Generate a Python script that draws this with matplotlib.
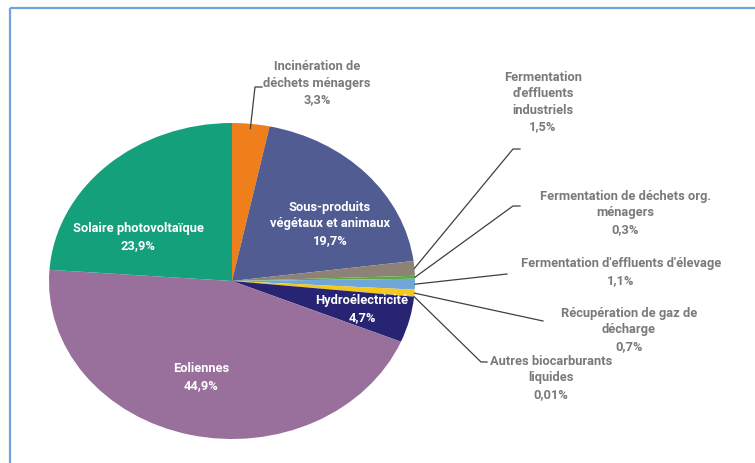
import matplotlib
matplotlib.use("Agg")
import numpy as np
import matplotlib.pyplot as plt

# Energy sources (share of production, %), clockwise from the top
sources = [
    "Incinération de\ndéchets ménagers",
    "Sous-produits\nvégétaux et animaux",
    "Fermentation\nd'effluents\nindustriels",
    "Fermentation de déchets org.\nménagers",
    "Fermentation d'effluents d'élevage",
    "Récupération de gaz de\ndécharge",
    "Autres biocarburants\nliquides",
    "Hydroélectricité",
    "Eoliennes",
    "Solaire photovoltaïque",
]
shares = [3.3, 19.7, 1.5, 0.3, 1.1, 0.7, 0.01, 4.7, 44.9, 23.9]
share_text = ["3,3%", "19,7%", "1,5%", "0,3%", "1,1%", "0,7%", "0,01%", "4,7%", "44,9%", "23,9%"]
colors = ["#EF7F1A", "#505C92", "#8C8275", "#5EAA3F", "#6FA8D8",
          "#F6C81A", "#A5A5A5", "#272474", "#98709B", "#14A07B"]

W, H = 755, 464
fig = plt.figure(figsize=(W / 100, H / 100), dpi=100)
fig.patch.set_facecolor("white")

# pie geometry in pixels (slightly wider than tall)
cx, cy, rx, ry = 232, 282, 183, 158

pie_ax = fig.add_axes([(cx - rx) / W, (H - cy - ry) / H, 2 * rx / W, 2 * ry / H])
wedges, _ = pie_ax.pie(shares, colors=colors, startangle=90, counterclock=False,
                       radius=1.0, wedgeprops=dict(linewidth=0))
pie_ax.set_aspect("auto")
pie_ax.set_xlim(-1, 1)
pie_ax.set_ylim(-1, 1)
pie_ax.axis("off")

ov = fig.add_axes([0, 0, 1, 1], zorder=5)
ov.set_xlim(0, W)
ov.set_ylim(H, 0)
ov.axis("off")
ov.patch.set_alpha(0)

# frame lines
frame_col = "#6FA3DC"
ov.plot([10, W], [9, 9], color=frame_col, lw=1.6, solid_capstyle="butt")
ov.plot([10, 10], [9, H], color=frame_col, lw=1.6, solid_capstyle="butt")

font = ["Roboto", "DejaVu Sans"]
grey = "#7A7A7A"
fsize = 9.3


def edge_point(w, frac=1.0):
    mid = np.deg2rad((w.theta1 + w.theta2) / 2)
    return cx + frac * rx * np.cos(mid), cy - frac * ry * np.sin(mid)


# labels inside the larger slices
inside = {1: (330, 224), 7: (362, 309), 8: (201, 377), 9: (138, 237)}
for i, (x, y) in inside.items():
    ov.text(x, y, f"{sources[i]}\n{share_text[i]}", ha="center", va="center",
            multialignment="center", color="white", fontsize=fsize,
            fontweight="bold", family=font, linespacing=1.35)

# outside labels: (text centre, leader elbow, leader end)
outside = {
    0: ((317, 83), (255, 88), (262, 88)),
    2: ((543, 102), (513, 150), (520, 150)),
    3: ((625, 213), (513, 207), (520, 207)),
    4: ((621, 272), (507, 275), (507, 275)),
    5: ((629, 330), (543, 322), (543, 322)),
    6: ((551, 378), (481, 363), (487, 363)),
}
for i, ((tx, ty), elbow, end) in outside.items():
    frac = 0.97 if i == 0 else 1.0
    sx, sy = edge_point(wedges[i], frac)
    ov.plot([sx, elbow[0], end[0]], [sy, elbow[1], end[1]],
            color="#3F3F3F", lw=0.9)
    ov.text(tx, ty, f"{sources[i]}\n{share_text[i]}", ha="center", va="center",
            multialignment="center", color=grey, fontsize=fsize,
            fontweight="bold", family=font, linespacing=1.35)

fig.savefig("out.png", dpi=100, facecolor="white")
